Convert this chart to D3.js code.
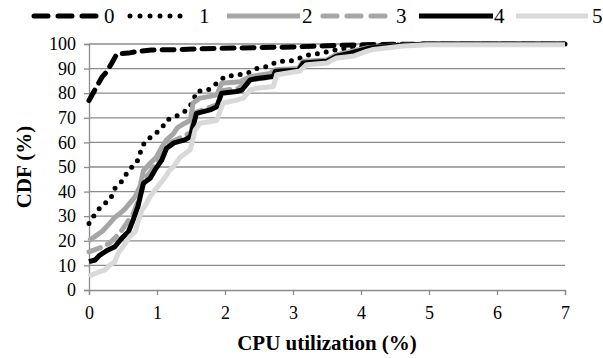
<!DOCTYPE html>
<html>
<head>
<meta charset="utf-8">
<script src="https://cdn.jsdelivr.net/npm/d3@7"></script>
<style>
  html, body { margin: 0; padding: 0; background: #fff; }
  svg { display: block; }
  svg text { font-family: "Liberation Serif", "Times New Roman", Times, "DejaVu Serif", serif !important; fill: #000; }
</style>
</head>
<body>
<svg id="chart" width="603" height="358"></svg>
<script>
// ---- Data ----
const seriesNames = ["0", "1", "2", "3", "4", "5"];
const xTicks = [0, 1, 2, 3, 4, 5, 6, 7];
const yTicks = [0, 10, 20, 30, 40, 50, 60, 70, 80, 90, 100];

const s0x = [0, 0.11, 0.19, 0.26, 0.33, 0.41, 0.58, 0.72, 0.92, 1.3, 1.6, 2.4, 3.0, 3.6, 4.2, 5, 7];
const s0y = [77, 82.5, 86.5, 88.7, 92, 96, 96.3, 97, 97.6, 97.7, 98, 98.5, 98.8, 99.4, 99.8, 100, 100];

const s1x = [0, 0.08, 0.19, 0.31, 0.38, 0.5, 0.58, 0.7, 0.75, 0.82, 0.95, 1.07, 1.14, 1.31, 1.44, 1.53, 1.58, 1.75, 2.0, 2.17, 2.32, 2.47, 2.61, 2.78, 2.96, 3.25, 3.42, 3.64, 3.84, 4.08, 4.5, 5, 7];
const s1y = [27, 30.5, 34.5, 36.6, 41.3, 44.7, 48.8, 51.5, 55.6, 60.3, 63, 65.7, 69, 71, 73.2, 76.6, 80.7, 81.3, 86.7, 87.4, 88, 90.1, 90.8, 93, 93, 95.7, 96.3, 97.7, 98.4, 99.1, 99.6, 100, 100];

const s2x = [0, 0.1, 0.2, 0.3, 0.38, 0.45, 0.53, 0.68, 0.75, 0.8, 0.9, 0.99, 1.07, 1.14, 1.24, 1.3, 1.41, 1.49, 1.53, 1.63, 1.78, 1.88, 1.95, 2.22, 2.37, 2.66, 2.74, 3.08, 3.15, 3.5, 3.62, 3.85, 4.1, 4.6, 5, 7];
const s2y = [20, 22, 24, 27, 29.5, 31, 33, 38, 42, 48.5, 51.5, 54, 58, 61, 63.5, 66, 67.8, 69, 76, 78, 78.7, 79.3, 84, 84.7, 86.7, 88, 89.5, 90, 93, 93.5, 95.5, 97, 98.5, 99.5, 100, 100];

const s3x = [0, 0.15, 0.3, 0.45, 0.55, 0.65, 0.75, 0.82, 0.9, 1.0, 1.1, 1.2, 1.35, 1.5, 1.55, 1.7, 1.9, 1.95, 2.2, 2.37, 2.7, 2.76, 3.1, 3.15, 3.5, 3.62, 3.9, 4.2, 4.6, 5, 7];
const s3y = [15.5, 17, 19, 23, 27, 31, 38, 45, 48, 52, 56, 60, 62, 64, 72, 73.5, 75.5, 81, 82, 85.5, 86.5, 88.5, 89.5, 92.5, 93, 95, 96.5, 98.5, 99.5, 100, 100];

const s4x = [0, 0.09, 0.16, 0.28, 0.38, 0.48, 0.58, 0.65, 0.72, 0.8, 0.9, 0.97, 1.07, 1.14, 1.25, 1.41, 1.49, 1.53, 1.58, 1.68, 1.78, 1.88, 1.95, 2.17, 2.25, 2.37, 2.47, 2.71, 2.74, 3.08, 3.15, 3.5, 3.64, 3.84, 4.13, 4.62, 5, 7];
const s4y = [11.5, 12.2, 14.2, 16.3, 17.6, 21, 23.7, 28.5, 34, 43.4, 45.4, 48.8, 52.8, 57.6, 59.8, 61, 62.3, 66.4, 71.8, 72.5, 73.2, 74.5, 80, 80.7, 81.3, 85.4, 86, 86.8, 88.9, 89.3, 92.3, 93, 95, 96.3, 98.4, 99.6, 100, 100];

const s5x = [0, 0.03, 0.15, 0.23, 0.31, 0.38, 0.43, 0.5, 0.6, 0.68, 0.73, 0.78, 0.82, 0.9, 0.97, 1.09, 1.19, 1.24, 1.34, 1.49, 1.56, 1.63, 1.78, 1.88, 1.97, 2.17, 2.27, 2.37, 2.47, 2.71, 2.76, 3.1, 3.2, 3.5, 3.64, 3.88, 4.08, 4.18, 4.62, 4.96, 7];
const s5y = [5.5, 6, 7.4, 8.1, 10.2, 11.5, 15, 17.6, 21.7, 23.7, 28.5, 32.5, 34, 38, 40.6, 44.7, 48.8, 50, 54, 57, 65, 67.8, 68.4, 69, 76, 77.2, 78, 81.3, 82, 82.7, 87.5, 89, 91.6, 92.3, 94.3, 95, 97, 97.8, 99.2, 99.7, 99.7];

const seriesX = [s0x, s1x, s2x, s3x, s4x, s5x];
const seriesY = [s0y, s1y, s2y, s3y, s4y, s5y];

// ---- Styles ----
const styles = [
  { color: "#000000", width: 5, dash: "12,8", cap: "round" },
  { color: "#000000", width: 5, dash: "0,9", cap: "round" },
  { color: "#a6a6a6", width: 5, dash: null, cap: "butt" },
  { color: "#a6a6a6", width: 5, dash: "12,8", cap: "round" },
  { color: "#000000", width: 5, dash: null, cap: "butt" },
  { color: "#d9d9d9", width: 5, dash: null, cap: "butt" }
];

const svg = d3.select("#chart");
const margin = { left: 89, right: 38, top: 44, bottom: 68 };
const W = 603, H = 358;
const x = d3.scaleLinear().domain([0, 7]).range([margin.left, W - margin.right]);
const y = d3.scaleLinear().domain([0, 100]).range([H - margin.bottom, margin.top]);

// gridlines
svg.append("g")
  .selectAll("line")
  .data(yTicks.filter(d => d > 0))
  .join("line")
  .attr("x1", x(0)).attr("x2", x(7))
  .attr("y1", d => y(d)).attr("y2", d => y(d))
  .attr("stroke", "#8c8c8c").attr("stroke-width", 1.3);

// y axis
const yAxis = svg.append("g")
  .attr("transform", `translate(${x(0)},0)`)
  .call(d3.axisLeft(y).tickValues(yTicks).tickSize(5).tickPadding(8));
yAxis.attr("font-family", null);
yAxis.select(".domain").attr("stroke", "#8c8c8c").attr("stroke-width", 1.3);
yAxis.selectAll(".tick line").attr("stroke", "#8c8c8c").attr("stroke-width", 1.3);
yAxis.selectAll("text").style("font-size", "18px");

// x axis
const xAxis = svg.append("g")
  .attr("transform", `translate(0,${y(0)})`)
  .call(d3.axisBottom(x).tickValues(xTicks).tickFormat(d3.format("d")).tickSize(5).tickPadding(11));
xAxis.attr("font-family", null);
xAxis.select(".domain").attr("stroke", "#8c8c8c").attr("stroke-width", 1.3);
xAxis.selectAll(".tick line").attr("stroke", "#8c8c8c").attr("stroke-width", 1.3);
xAxis.selectAll("text").style("font-size", "18px");

// lines
const line = d3.line().x(d => x(d[0])).y(d => y(d[1]));
seriesNames.forEach((name, i) => {
  const pts = seriesX[i].map((v, j) => [v, seriesY[i][j]]);
  const st = styles[i];
  svg.append("path")
    .datum(pts)
    .attr("d", line)
    .attr("fill", "none")
    .attr("stroke", st.color)
    .attr("stroke-width", st.width)
    .attr("stroke-linecap", st.cap)
    .attr("stroke-linejoin", "round")
    .attr("stroke-dasharray", st.dash);
});

// axis titles
svg.append("text")
  .attr("x", (x(0) + x(7)) / 2).attr("y", 350)
  .attr("text-anchor", "middle")
  .style("font-weight", "bold").style("font-size", "21px")
  .text("CPU utilization (%)");

svg.append("text")
  .attr("transform", `translate(31,${(y(0) + y(100)) / 2}) rotate(-90)`)
  .attr("text-anchor", "middle")
  .style("font-weight", "bold").style("font-size", "21px")
  .text("CDF (%)");

// legend
const legendX1 = [34, 130, 227, 323, 419, 516];
const legendX2 = [96, 189, 300, 387, 493, 588];
const legendLabelX = [104, 199, 302, 396, 494, 592];
const legendY = 16;
const lg = svg.append("g");
seriesNames.forEach((name, i) => {
  const st = styles[i];
  lg.append("path")
    .attr("d", d3.line()([[legendX1[i], legendY], [legendX2[i], legendY]]))
    .attr("stroke", st.color)
    .attr("stroke-width", st.width)
    .attr("stroke-linecap", st.cap)
    .attr("stroke-dasharray", st.dash === "0,9" ? "0,10" : (st.dash ? "14,10" : null));
  lg.append("text")
    .attr("x", legendLabelX[i]).attr("y", legendY + 7)
    .style("font-size", "21px")
    .text(name);
});
</script>
</body>
</html>
